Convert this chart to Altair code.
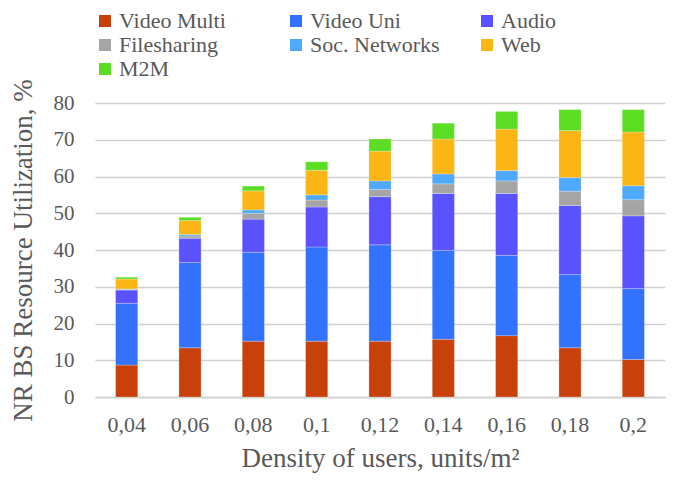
import altair as alt
import pandas as pd

densities = ["0,04", "0,06", "0,08", "0,1", "0,12", "0,14", "0,16", "0,18", "0,2"]
series_names = ["Video Multi", "Video Uni", "Audio", "Filesharing", "Soc. Networks", "Web", "M2M"]
series_colors = ["#C8410B", "#3272FF", "#5B52FF", "#A5A5A5", "#4EA9FF", "#FBB514", "#5BDD24"]

video_multi = [8.7, 13.4, 15.2, 15.2, 15.2, 15.7, 16.7, 13.4, 10.2]
video_uni = [16.8, 23.2, 24.2, 25.6, 26.2, 24.2, 21.8, 19.9, 19.3]
audio = [3.6, 6.6, 9.0, 10.9, 13.1, 15.5, 16.9, 18.8, 19.8]
filesharing = [0.2, 0.6, 1.6, 1.9, 2.0, 2.6, 3.4, 3.9, 4.4]
soc_networks = [0.1, 0.4, 0.9, 1.4, 2.3, 2.7, 2.8, 3.7, 3.8]
web = [2.7, 3.8, 5.2, 6.7, 8.1, 9.5, 11.3, 12.8, 14.6]
m2m = [0.5, 0.9, 1.3, 2.3, 3.3, 4.3, 4.8, 5.7, 6.1]

all_series = [video_multi, video_uni, audio, filesharing, soc_networks, web, m2m]
rows = []
for i, (name, vals) in enumerate(zip(series_names, all_series)):
    for d, v in zip(densities, vals):
        rows.append({"density": d, "service": name, "value": v, "order": i})
df = pd.DataFrame(rows)

FONT = "Times New Roman, Liberation Serif, serif"

chart = alt.Chart(df).mark_bar(stroke="white", strokeWidth=0.4, strokeOpacity=0.6).encode(
    x=alt.X("density:N", sort=densities,
            scale=alt.Scale(paddingInner=0.65, paddingOuter=0.325),
            axis=alt.Axis(title="Density of users, units/m²", labelAngle=0, ticks=False,
                          domainColor="#D0D0D0", domainWidth=1.5, labelFontSize=22,
                          labelPadding=17, titlePadding=10)),
    y=alt.Y("value:Q", stack="zero",
            scale=alt.Scale(domain=[0, 80], nice=False),
            axis=alt.Axis(title="NR BS Resource Utilization, %", values=list(range(0, 81, 10)),
                          ticks=False, domain=False, gridColor="#D0D0D0", gridWidth=1.5,
                          labelFontSize=21, labelPadding=21, titlePadding=16)),
    color=alt.Color("service:N", sort=series_names,
                    scale=alt.Scale(domain=series_names, range=series_colors),
                    legend=alt.Legend(title=None, orient="none", legendX=-1, legendY=-93,
                                      direction="horizontal",
                                      columns=3, gridAlign="all", columnPadding=36,
                                      rowPadding=2, symbolType="square", symbolSize=144,
                                      symbolStrokeWidth=0, labelFont=FONT, labelFontSize=22,
                                      labelColor="#595959", labelOffset=3, labelLimit=300)),
    order=alt.Order("order:Q", sort="ascending"),
).properties(
    width=570, height=294,
    autosize=alt.AutoSizeParams(type="none"),
    padding={"left": 87, "top": 95, "right": 10, "bottom": 80},
).configure_axis(
    labelFont=FONT, labelColor="#595959",
    titleFont=FONT, titleFontSize=27, titleColor="#595959", titleFontWeight="normal",
).configure_legend(
    labelFont=FONT
).configure_view(stroke=None)

chart.save("out.html", embed_options={"renderer": "svg", "actions": False})
